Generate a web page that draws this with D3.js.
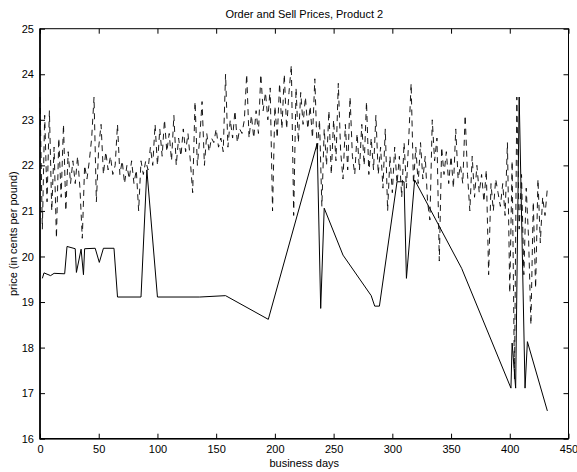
<!DOCTYPE html>
<html>
<head>
<meta charset="utf-8">
<script src="https://cdn.jsdelivr.net/npm/d3@7"></script>
<style>
  html, body { margin: 0; padding: 0; background: #fff; }
  svg { display: block; }
  text { font-family: "Liberation Sans", Arial, Helvetica, sans-serif; }
</style>
</head>
<body>
<div id="chart"></div>
<script>
// Order price (solid line): [business day, price]
const orderDays = [2, 3.4, 9, 12, 21, 23, 30, 31, 35, 37, 38, 47, 50.5, 54, 63, 66, 86, 91, 100, 136, 158,
    194.4, 236, 239, 242, 258, 282, 285, 289, 304, 310, 312, 319, 359, 401, 402, 405, 408, 413, 415, 432];
const orderPrices = [19.52, 19.64, 19.58, 19.63, 19.62, 20.22, 20.17, 19.65, 20.16, 19.6, 20.17, 20.18, 19.87,
    20.18, 20.18, 19.11, 19.11, 21.9, 19.11, 19.11, 19.14, 18.62, 22.48, 18.86, 21.06, 20.03, 19.14, 18.91,
    18.91, 21.64, 21.64, 19.52, 21.68, 19.74, 17.11, 18.1, 17.11, 23.5, 17.11, 18.13, 16.61];

// Sell price (dashed line), one value every second business day from day 0 to 432
const sellPrices = [
    23.5, 20.6, 23.1, 21.2, 23.2,   21.0, 22.4, 20.4, 22.6, 21.3,
    22.9, 21.0, 22.3, 21.6, 22.1,   21.6, 22.2, 21.5, 20.4, 22.0,
    21.7, 22.1, 22.6, 23.5, 21.2,   22.4, 22.9, 21.8, 22.3, 21.9,
    22.2, 21.8, 22.0, 22.9, 21.8,   22.1, 21.6, 22.0, 21.7, 22.1,
    21.6, 21.9, 21.0, 22.1, 21.8,   22.1, 21.9, 22.4, 22.0, 22.9,
    22.0, 22.8, 22.2, 23.0, 22.3,   22.7, 22.1, 23.1, 22.0, 22.6,
    22.2, 22.8, 22.3, 22.7, 22.1,   21.4, 23.4, 22.0, 22.6, 23.4,
    22.0, 22.7, 22.3, 22.6, 22.5,   22.8, 22.4, 22.6, 22.3, 24.0,
    22.4, 23.0, 22.6, 23.2, 22.5,   22.8, 22.7, 23.0, 24.0, 22.6,
    23.1, 22.6, 23.2, 22.7, 24.0,   23.2, 23.6, 23.0, 23.7, 21.0,
    23.3, 22.6, 23.8, 22.8, 24.0,   22.8, 23.6, 24.2, 20.9, 23.7,
    22.5, 23.6, 22.9, 23.5, 22.8,   23.3, 22.6, 23.9, 22.3, 23.0,
    21.1, 22.8, 22.0, 23.2, 21.8,   23.0, 22.1, 23.8, 22.3, 21.7,
    22.9, 21.9, 23.5, 22.2, 21.8,   22.7, 21.9, 22.9, 22.0, 23.4,
    21.8, 22.6, 21.9, 23.1, 21.8,   22.4, 21.5, 22.8, 21.0, 22.2,
    21.4, 22.4, 21.6, 22.2, 21.3,   22.5, 21.5, 22.6, 23.8, 21.6,
    22.4, 21.6, 22.5, 21.7, 22.2,   21.2, 20.8, 23.0, 22.1, 22.6,
    19.9, 22.4, 21.8, 22.3, 21.6,   22.2, 21.5, 22.8, 21.7, 22.0,
    21.6, 23.1, 21.8, 21.0, 22.2,   21.3, 22.0, 21.4, 21.8, 21.2,
    21.9, 19.6, 21.6, 21.0, 21.7,   21.4, 21.1, 21.6, 20.9, 22.5,
    19.2, 22.1, 17.3, 23.5, 20.6,   21.8, 19.6, 21.5, 20.4, 18.5,
    21.2, 19.3, 21.7, 20.3, 21.3,   20.9, 21.5
];
const sellDays = sellPrices.map((d, i) => i * 2);

const xTicks = [0, 50, 100, 150, 200, 250, 300, 350, 400, 450];
const yTicks = [16, 17, 18, 19, 20, 21, 22, 23, 24, 25];

const width = 577;
const height = 472;
const margin = {top: 28.7, right: 8.5, bottom: 33.3, left: 40};

const x = d3.scaleLinear()
    .domain([0, 450])
    .range([margin.left, width - margin.right]);
const y = d3.scaleLinear()
    .domain([16, 25])
    .range([height - margin.bottom, margin.top]);

const svg = d3.select("#chart").append("svg")
    .attr("width", width)
    .attr("height", height)
    .attr("viewBox", [0, 0, width, height]);

// Title
svg.append("text")
    .attr("x", (x(0) + x(450)) / 2)
    .attr("y", 18)
    .attr("text-anchor", "middle")
    .attr("font-size", 11)
    .text("Order and Sell Prices, Product 2");

// Axes, ticks point inwards like MATLAB
const xAxis = d3.axisBottom(x).tickValues(xTicks).tickSizeInner(-5).tickSizeOuter(0).tickPadding(7);
const xAxisTop = d3.axisTop(x).tickValues(xTicks).tickSizeInner(-5).tickSizeOuter(0).tickFormat("");
const yAxis = d3.axisLeft(y).tickValues(yTicks).tickSizeInner(-5).tickSizeOuter(0).tickPadding(6);
const yAxisRight = d3.axisRight(y).tickValues(yTicks).tickSizeInner(-5).tickSizeOuter(0).tickFormat("");

function styleAxis(g) {
    g.select(".domain").remove();
    g.selectAll("line").attr("stroke", "#000");
    g.selectAll("text").attr("font-size", 11).attr("fill", "#000")
        .attr("font-family", '"Liberation Sans", Arial, Helvetica, sans-serif');
}

svg.append("g").attr("transform", `translate(0,${y(16)})`).call(xAxis).call(styleAxis);
svg.append("g").attr("transform", `translate(0,${y(25)})`).call(xAxisTop).call(styleAxis);
svg.append("g").attr("transform", `translate(${x(0)},0)`).call(yAxis).call(styleAxis);
svg.append("g").attr("transform", `translate(${x(450)},0)`).call(yAxisRight).call(styleAxis);

// Box around the plot
svg.append("rect")
    .attr("x", x(0))
    .attr("y", y(25))
    .attr("width", x(450) - x(0))
    .attr("height", y(16) - y(25))
    .attr("fill", "none")
    .attr("stroke", "#000")
    .attr("stroke-width", 1);
svg.append("path")
    .attr("d", `M${x(0)},${y(25)}V${y(16)}H${x(450)}`)
    .attr("fill", "none")
    .attr("stroke", "#000")
    .attr("stroke-width", 1.6);

// Axis labels
svg.append("text")
    .attr("x", (x(0) + x(450)) / 2)
    .attr("y", 467)
    .attr("text-anchor", "middle")
    .attr("font-size", 11)
    .text("business days");

svg.append("text")
    .attr("transform", `translate(17,${(y(16) + y(25)) / 2}) rotate(-90)`)
    .attr("text-anchor", "middle")
    .attr("font-size", 11)
    .text("price (in cents per pound)");

// Lines
const line = d3.line()
    .x(d => x(d[0]))
    .y(d => y(d[1]));

const plot = svg.append("g");

plot.append("path")
    .datum(sellDays.map((d, i) => [d, sellPrices[i]]))
    .attr("fill", "none")
    .attr("stroke", "#000")
    .attr("stroke-width", 0.9)
    .attr("stroke-dasharray", "6,5")
    .attr("d", line);

plot.append("path")
    .datum(orderDays.map((d, i) => [d, orderPrices[i]]))
    .attr("fill", "none")
    .attr("stroke", "#000")
    .attr("stroke-width", 1)
    .attr("d", line);
</script>
</body>
</html>
